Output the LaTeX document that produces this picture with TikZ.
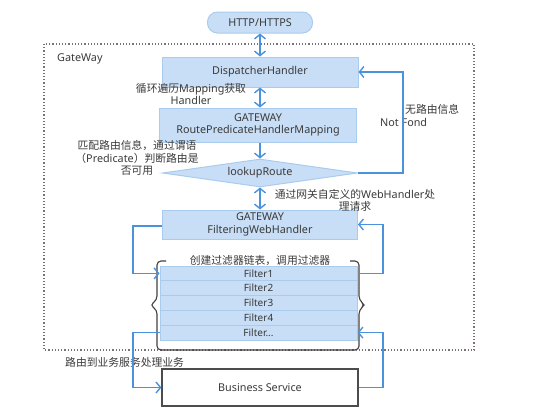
\documentclass[tikz,border=0pt]{standalone}
\usepackage{fontspec}
\setmainfont{Noto Sans}
\newfontfamily\cjk{Noto Sans CJK SC}
\usetikzlibrary{arrows.meta,shapes.geometric}
\definecolor{boxfill}{HTML}{C8DEF6}
\definecolor{boxline}{HTML}{A9CBEE}
\definecolor{arrowc}{HTML}{4A92DC}
\definecolor{txt}{HTML}{3A3A3A}
\definecolor{dotc}{HTML}{7A7078}
\tikzset{
  bluebox/.style={draw=boxline, line width=1pt, fill=boxfill, text=txt, align=center, inner sep=0pt, font=\fontsize{10.8}{12.5}\selectfont},
  rowbox/.style={bluebox, minimum width=197pt, minimum height=14.8pt, font=\fontsize{10}{10}\selectfont},
  conn/.style={draw=arrowc, line width=1.4pt},
  tipE/.style={-{Straight Barb[length=4.5pt,width=11pt,line width=1.4pt]}},
  tipB/.style={{Straight Barb[length=4.5pt,width=11pt,line width=1.4pt]}-{Straight Barb[length=4.5pt,width=11pt,line width=1.4pt]}},
  lbl/.style={text=txt, align=center, inner sep=0pt, font=\fontsize{10.8}{12.2}\selectfont},
}
\begin{document}
\begin{tikzpicture}[x=1pt,y=-1pt]
\useasboundingbox (0,0) rectangle (551,418);
% gateway frame
\draw[dotc, line width=1.2pt, dotted] (44,44) rectangle (474,350);
\node[lbl, anchor=west] (gw) at (57,59) {GateWay};
% nodes
\node[bluebox, rounded corners=10pt, minimum width=105pt, minimum height=21pt] (http) at (260,22.5) {HTTP/HTTPS};
\node[bluebox, minimum width=196pt, minimum height=30pt] (disp) at (260,72) {DispatcherHandler};
\node[bluebox, minimum width=197pt, minimum height=34pt] (rph) at (258,125) {GATEWAY\\RoutePredicateHandlerMapping};
\node[bluebox, shape=diamond, aspect=7, minimum width=195pt, minimum height=28pt] (look) at (260,173) {lookupRoute};
\node[bluebox, minimum width=195pt, minimum height=29pt] (fwh) at (260,224.5) {GATEWAY\\FilteringWebHandler};
\node[rowbox] (f1) at (258.5,273.4) {Filter1};
\node[rowbox] (f2) at (258.5,288.2) {Filter2};
\node[rowbox] (f3) at (258.5,303.0) {Filter3};
\node[rowbox] (f4) at (258.5,317.8) {Filter4};
\node[rowbox] (f5) at (258.5,332.6) {Filter...};
\node[draw=black!70, line width=1.2pt, fill=white, text=txt, minimum width=196pt, minimum height=37pt, inner sep=0pt, font=\fontsize{10.8}{12}\selectfont] (biz) at (260,387.5) {Business Service};
% bracket frame
\draw[black!75, line width=1.1pt, rounded corners=4pt]
  (166,261) -- (157,261) -- (157,300) -- (150,305) -- (157,310) -- (157,350) -- (359,350) -- (359,310) -- (365,305) -- (359,300) -- (359,261) -- (350,261);
\node[lbl, fill=white, inner xsep=2pt] (chain) at (260,261) {\cjk 创建过滤器链表，调用过滤器};
% labels
\node[lbl] (l1) at (191,94) {{\cjk 循环遍历}Mapping{\cjk 获取}\\Handler};
\node[lbl] (l2) at (137,158) {{\cjk 匹配路由信息，通过谓语}\\{\cjk （}Predicate{\cjk ）判断路由是}\\{\cjk 否可用}};
\node[lbl, anchor=west] (l3) at (405,109) {\cjk 无路由信息};
\node[lbl, anchor=west] (l4) at (380,122) {Not Fond};
\node[lbl] (l5) at (355,200) {{\cjk 通过网关自定义的}WebHandler{\cjk 处}\\{\cjk 理请求}};
\node[lbl, anchor=west] (l6) at (65,362) {\cjk 路由到业务服务处理业务};
% connectors
\draw[conn, tipB] (http.south) -- (disp.north);
\draw[conn, tipB] (disp.south) -- (disp.south |- rph.north);
\draw[conn, tipE] (rph.south -| look.north) -- (look.north);
\draw[conn, tipB] (look.south) -- (fwh.north);
\coordinate (nr) at (403,173);
\draw[conn, tipE] (look.east) -- (nr) |- (disp.east);
\coordinate (lf) at (133,226);
\draw[conn, tipE] (fwh.west |- lf) -- (lf) |- (f1.west);
\coordinate (rf) at (383,273.4);
\draw[conn, tipE] (359,273.4) -- (rf) |- (fwh.east);
\coordinate (lb) at (133,332.6);
\draw[conn, tipE] (f5.west) -- (lb) |- (biz.west);
\coordinate (rb) at (383,387.5);
\draw[conn, tipE] (biz.east) -- (rb) |- (f5.east);
\end{tikzpicture}
\end{document}
